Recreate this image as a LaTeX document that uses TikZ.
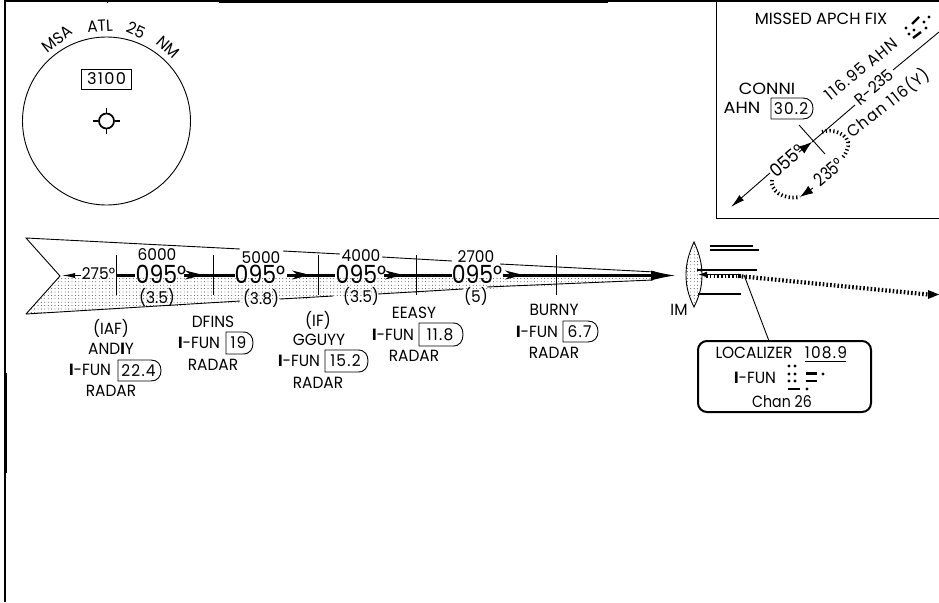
\documentclass[tikz,border=0pt]{standalone}
\usepackage{fontspec}
\setmainfont{Poppins}
\newfontfamily\widefont{Poppins}[LetterSpace=8,Kerning=Off]
\usetikzlibrary{arrows.meta,patterns,calc}
\pgfdeclarepatternformonly{stip}{\pgfqpoint{-1pt}{-1pt}}{\pgfqpoint{2.4pt}{2.4pt}}{\pgfqpoint{3.4pt}{3.4pt}}{%
  \pgfpathcircle{\pgfqpoint{0.6pt}{0.6pt}}{0.42pt}\pgfusepath{fill}}
\tikzset{
  lbl/.style={inner sep=0pt,font=\fontsize{16.2}{18}\selectfont,xscale=.95},
  crs/.style={inner sep=0pt,font=\fontsize{25}{26}\selectfont,xscale=.88},
  hdg/.style={inner sep=0pt,font=\fontsize{18}{20}\selectfont,xscale=.95},
  thin line/.style={line width=0.9pt},
  thick track/.style={line width=3.6pt},
  fixtick/.style={line width=0.9pt},
  stipple/.style={pattern=stip,pattern color=black},
  morse dash/.style={line width=2.4pt},
  hold/.style={line width=3.8pt,dash pattern=on 1.3pt off 2.5pt},
  missed/.style={line width=4.2pt,dash pattern=on 1.6pt off 2.1pt},
  barb/.style={-{Stealth[length=18pt,width=9pt]},line width=0.9pt},
}
\newcommand{\dmebox}[6]{%
  \draw[thin line] (#2,#3) -- ({#4-10},#3) .. controls ({#4-3},#3) and (#4,{#3+5}) .. (#4,{(#3+#5)/2})
    .. controls (#4,{#5-5}) and ({#4-3},#5) .. ({#4-10},#5) -- (#2,#5) -- cycle;
  \node[lbl] (#1) at ({(#2+#4)/2-1},{(#3+#5)/2}) {\widefont #6};}
\newcommand{\mdot}[2]{\fill (#1,#2) circle[radius=1.7pt];}
\newcommand{\ifun}{\textbf{I}-FUN}
\begin{document}
\begin{tikzpicture}[x=1pt,y=-1pt]
\useasboundingbox (0,0) rectangle (939,602);
% frame
\draw[line width=1.8pt] (5.2,602) -- (5.2,1.2) -- (939,1.2);
\fill (219,0) rectangle (608,3.5);
\fill (3.8,373) rectangle (7,473);
\draw[line width=0.8pt] (107,0) -- (107,3);
\draw[line width=0.8pt] (716,0) -- (716,218) -- (939,218);
% MSA
\node[draw,circle,line width=0.9pt,minimum size=168pt,inner sep=0pt] (msa) at (106.5,121) {};
\node[rotate=38,lbl] (lmsa) at (57,39) {MSA};
\node[rotate=3,lbl] (latl) at (100,26) {ATL};
\node[rotate=-25,lbl] (l25) at (136,30) {25};
\node[rotate=-42,lbl] (lnm) at (168,47) {NM};
\node[draw,line width=0.9pt,minimum width=50pt,minimum height=20pt,inner sep=0pt,font=\fontsize{16.2}{18}\selectfont] (alt) at (106.5,79) {\widefont 3100};
\node[draw,circle,line width=1.7pt,minimum size=15pt,inner sep=0pt] (ref) at (106.5,121) {};
\draw[line width=1.5pt] (ref.north) -- ++(0,-5) (ref.south) -- ++(0,5) (ref.west) -- ++(-5,0) (ref.east) -- ++(5,0);
% missed approach inset
\node[lbl,xscale=1.06] (mapch) at (821,19) {MISSED APCH FIX};
\node[rotate=39,lbl] (vor) at (861,69) {\widefont 116.95 AHN};
\node[rotate=40,lbl] (rad) at (874,87) {R-235};
\node[rotate=38,lbl] (chan) at (888,103) {\widefont Chan 116(Y)};
\node[lbl,xscale=1.14] (conni) at (767,89) {CONNI};
\node[lbl,xscale=1.15] (ahn) at (742,108) {AHN};
\dmebox{d302}{771}{98}{813}{119}{30.2}
\coordinate (re) at (939,32);
\coordinate (rb) at (893,70);
\coordinate (ra) at (855,105);
\coordinate (cr) at (812,142);
\coordinate (hb) at (799,152);
\coordinate (la) at (770,173);
\coordinate (lt) at (731,207);
\draw[thin line] (re) -- (rb) (ra) -- (cr);
\draw[-{Latex[length=13pt,width=9pt]},line width=0.9pt] (hb) -- (cr);
\draw[-{Latex[length=14pt,width=7pt]},thin line] (la) -- (lt);
\draw[thin line] (799,125) -- (825,154);
\node[rotate=40,hdg] (o55) at (787,161) {055°};
\node[rotate=40,hdg,xscale=.85] (o235) at (829,172) {235°};
\draw[-{Latex[length=13pt,width=9pt]},line width=0.9pt] (813,188) -- (800,197);
\draw[hold] (822,132) .. controls (832,128) and (850,134) .. (848,146) .. controls (847,150) and (846,154) .. (843,157);
\draw[hold] (772,180) .. controls (770,190) and (782,200) .. (800,197);
% AHN morse
\mdot{929}{17}
\draw[morse dash] (912,24) -- (919,17);
\mdot{924}{22}\mdot{926}{28}\mdot{906}{28}\mdot{909}{34}\mdot{914}{30}
\draw[morse dash] (913,38) -- (921,32);
% feeder
\coordinate (tl) at (26,238);
\coordinate (nt) at (60,276);
\coordinate (bl) at (26,314);
\coordinate (tip) at (675,275.5);
\fill[stipple] (nt) -- (660,276) -- (653,280) -- (bl) -- cycle;
\draw[thin line] (bl) -- (nt) -- (tl) -- (240,249) (283,251) -- (340,254) (382,257) -- (452,261) (500,264) -- (655,272);
\draw[thin line] (bl) -- (240,301) (280,299) -- (333,296) (378,294) -- (463,289) (487,287) -- (653,280);
% track
\node[lbl] (in) at (98.5,274) {275°};
\draw[-{Latex[length=13pt,width=5pt]},line width=0.9pt] (81,275.5) -- (62,275.5);
\node[crs] (c1) at (161,274) {095°};
\node[crs] (c2) at (260,274) {095°};
\node[crs] (c3) at (361,274) {095°};
\node[crs] (c4) at (477,274) {095°};
\draw[thick track] (116,275.5) -- (135,275.5) (184,275.5) -- (235,275.5) (287,275.5) -- (335,275.5) (384,275.5) -- (452,275.5) (503,275.5) -- (660,275.5);
\draw[barb] (186,275) -- (203,275);
\draw[barb] (293,275) -- (310,275);
\draw[barb] (386,275) -- (403,275);
\draw[barb] (506,275) -- (523,275);
\draw[-{Latex[length=24pt,width=10pt]},line width=1pt] (640,275.5) -- (tip);
% fix ticks
\foreach \x in {116,213,318,416,556} \draw[fixtick] (\x,255) -- (\x,295);
% altitudes, distances
\node[lbl] (a1) at (157,255) {6000};
\node[lbl] (a2) at (261,258) {5000};
\node[lbl] (a3) at (361,256) {4000};
\node[lbl] (a4) at (476,257) {2700};
\node[lbl] (d1) at (157,297) {(3.5)};
\node[lbl] (d2) at (261,298) {(3.8)};
\node[lbl] (d3) at (361,296) {(3.5)};
\node[lbl] (d4) at (476,296) {(5)};
% fixes
\node[lbl] (f1a) at (111,328) {(IAF)};
\node[lbl] (f1b) at (111,349) {AND\textbf{I}Y};
\node[lbl] (f1c) at (90,370) {\ifun};
\dmebox{f1d}{118}{360}{161}{381}{22.4}
\node[lbl] (f1e) at (111,391) {RADAR};
\node[lbl] (f2b) at (213,322) {DFINS};
\node[lbl] (f2c) at (199,343) {\ifun};
\dmebox{f2d}{226}{332}{253}{354}{19}
\node[lbl] (f2e) at (213,365) {RADAR};
\node[lbl] (f3a) at (318,320) {(IF)};
\node[lbl] (f3b) at (319,340) {GGUYY};
\node[lbl] (f3c) at (299,361) {\ifun};
\dmebox{f3d}{325}{350}{368}{372}{15.2}
\node[lbl] (f3e) at (318,383) {RADAR};
\node[lbl] (f4b) at (414,313) {EEASY};
\node[lbl] (f4c) at (393,335) {\ifun};
\dmebox{f4d}{419}{323}{463}{346}{11.8}
\node[lbl] (f4e) at (414,356) {RADAR};
\node[lbl] (f5b) at (554,310) {BURNY};
\node[lbl] (f5c) at (537,332) {\ifun};
\dmebox{f5d}{563}{321}{598}{342}{6.7}
\node[lbl] (f5e) at (554,353) {RADAR};
% IM and localizer
\filldraw[thin line,fill=white] (694,242) .. controls (688,255) and (686,265) .. (686,275) .. controls (686,285) and (688,295) .. (694,307) .. controls (700,295) and (702,285) .. (702,275) .. controls (702,265) and (700,255) .. (694,242) -- cycle;
\fill[stipple] (694,242) .. controls (688,255) and (686,265) .. (686,275) .. controls (686,285) and (688,295) .. (694,307) .. controls (700,295) and (702,285) .. (702,275) .. controls (702,265) and (700,255) .. (694,242) -- cycle;
\draw[line width=1.8pt] (710,246) -- (753,246) (710,250) -- (759,250) (697,270) -- (757,270) (698,294) -- (741,294);
\draw[missed] (738,276) -- (928,294.5);
\draw[missed] (741,276) -- (704,276);
\draw[-{Latex[length=9pt,width=6pt]},line width=1.5pt] (741,274.5) -- (698,274.5);
\fill (928,290) -- (939,294.5) -- (928,299) -- cycle;
\node[lbl] (im) at (679,310) {IM};
\node[draw,line width=2pt,rounded corners=9pt,minimum width=173pt,minimum height=71pt,inner sep=0pt] (locbox) at (784.5,376.5) {};
\coordinate (locp) at (744,275);
\draw[thin line] (locp) -- (769,341);
\node[lbl] (loc) at (754,353) {LOCALIZER};
\node[lbl] (frq) at (826,353) {\widefont 108.9};
\draw[thin line] (805,361) -- (846,361);
\node[lbl] (lif) at (755,378) {\ifun};
\node[lbl,xscale=.92] (lch) at (782,402) {Chan 26};
\mdot{789}{366}\mdot{795}{366}
\mdot{789}{374}\mdot{795}{374}\mdot{823}{374}
\mdot{789}{381}\mdot{795}{381}\mdot{807}{389}
\draw[morse dash] (806,373.5) -- (817,373.5) (806,381) -- (817,381) (788,389) -- (800,389);
\end{tikzpicture}
\end{document}
